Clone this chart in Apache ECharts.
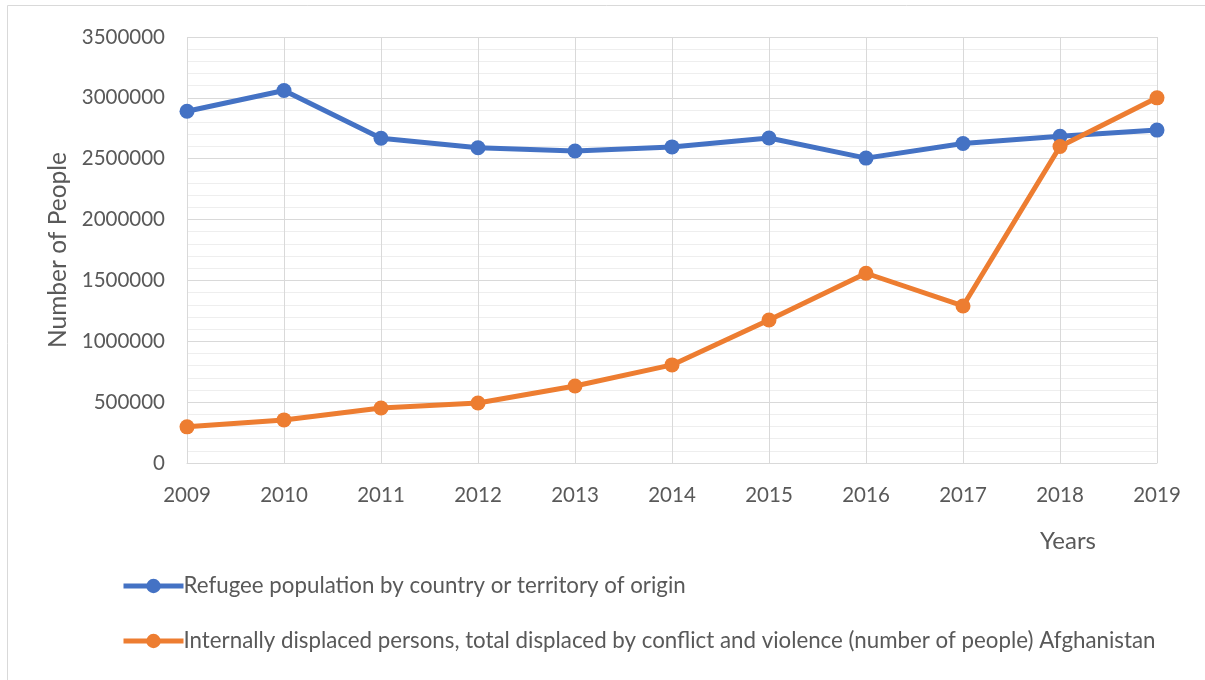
<!DOCTYPE html>
<html><head><meta charset="utf-8">
<script src="https://cdn.jsdelivr.net/npm/echarts@6/dist/echarts.min.js"></script>
<style>html,body{margin:0;padding:0;background:#fff}#c{width:1205px;height:680px}</style>
</head><body><div id="c"></div>
<script>
const years = ['2009','2010','2011','2012','2013','2014','2015','2016','2017','2018','2019'];
const refugees = [2890000, 3060000, 2668000, 2590000, 2563000, 2597000, 2670000, 2505000, 2625000, 2685000, 2735000];
const idps = [297000, 354000, 452000, 493000, 633000, 806000, 1175000, 1559000, 1290000, 2600000, 3000000];
const yTicks = [0, 500000, 1000000, 1500000, 2000000, 2500000, 3000000, 3500000];
const seriesNames = ['Refugee population by country or territory of origin',
  'Internally displaced persons, total displaced by conflict and violence (number of people) Afghanistan'];

const font = 'Lato';
const txt = '#595959';
const chart = echarts.init(document.getElementById('c'));
chart.setOption({
  animation: false,
  textStyle: {fontFamily: font},
  graphic: [{type: 'rect', shape: {x: 7.5, y: 5.5, width: 1200, height: 680}, style: {fill: 'none', stroke: '#d9d9d9', lineWidth: 1}}],
  grid: {left: 187, right: 48, top: 37, bottom: 217},
  xAxis: {
    type: 'category', data: years, boundaryGap: false,
    name: 'Years', nameLocation: 'end', nameGap: -89,
    nameTextStyle: {color: txt, fontSize: 24, fontFamily: font, align: 'center', verticalAlign: 'top', padding: [66,0,0,0]},
    axisLine: {lineStyle: {color: '#d9d9d9', width: 1}},
    axisTick: {show: false},
    axisLabel: {color: txt, fontSize: 20.5, margin: 22, fontFamily: font},
    splitLine: {show: true, lineStyle: {color: '#d9d9d9', width: 1}}
  },
  yAxis: {
    type: 'value', min: 0, max: yTicks[yTicks.length-1], interval: 500000,
    name: 'Number of People', nameLocation: 'middle', nameGap: 108,
    nameTextStyle: {color: txt, fontSize: 24.5, fontFamily: font},
    axisLine: {show: false}, axisTick: {show: false},
    axisLabel: {color: txt, fontSize: 20.5, margin: 22, fontFamily: font, formatter: v => String(v)},
    splitLine: {lineStyle: {color: '#d9d9d9', width: 1}},
    minorTick: {show: false, splitNumber: 5},
    minorSplitLine: {show: true, lineStyle: {color: '#eeeeee', width: 1}}
  },
  legend: {
    orient: 'vertical', left: 116, top: 570, itemGap: 33,
    itemWidth: 60, itemHeight: 18,
    lineStyle: {width: 5},
    textStyle: {color: txt, fontSize: 22.3, fontFamily: font, padding: [0,0,0,-5]},
    data: seriesNames
  },
  series: [
    {name: seriesNames[0], type: 'line', data: refugees, symbol: 'circle', symbolSize: 15,
     lineStyle: {width: 5, color: '#4472C4'}, itemStyle: {color: '#4472C4'}},
    {name: seriesNames[1], type: 'line', data: idps, symbol: 'circle', symbolSize: 15,
     lineStyle: {width: 5, color: '#ED7D31'}, itemStyle: {color: '#ED7D31'}}
  ]
});
</script></body></html>
